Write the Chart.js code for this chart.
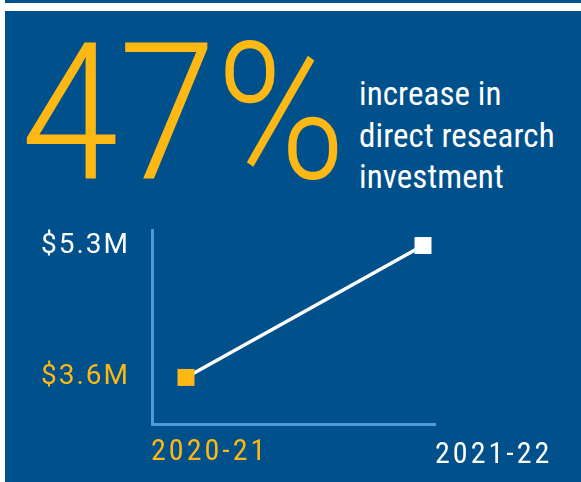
<!DOCTYPE html>
<html>
<head>
<meta charset="utf-8">
<script src="https://cdn.jsdelivr.net/npm/chart.js@4"></script>
<style>
  html, body { margin: 0; padding: 0; background: #ffffff; }
  body { width: 581px; height: 482px; position: relative; overflow: hidden; }
  .strip { position: absolute; left: 5px; top: 0; width: 576px; height: 3px; background: #00508C; }
  .panel { position: absolute; left: 5px; top: 11px; width: 576px; height: 471px; background: #00508C; }
  .big {
    position: absolute; left: 21px; top: 13px;
    font-family: Roboto, sans-serif; font-weight: 300;
    font-size: 191px; line-height: 200px; color: #FDB813;
    transform-origin: 0 0; transform: scaleX(0.92); white-space: nowrap;
  }
  .sub {
    position: absolute; left: 359px; top: 73px;
    font-family: Roboto, sans-serif; font-stretch: condensed; font-weight: 400;
    font-size: 33px; line-height: 41.5px; color: #ffffff; letter-spacing: 0.1px;
    white-space: nowrap;
  }
  canvas { position: absolute; left: 0; top: 0; }
</style>
</head>
<body>
<div class="strip"></div>
<div class="panel"></div>
<div class="big" id="big"></div>
<div class="sub" id="sub"></div>
<canvas id="c" width="581" height="482"></canvas>
<script>
// Headline
const headline = '47%';
const subLines = ['increase in', 'direct research', 'investment'];

// Series
const years = ['2020-21', '2021-22'];
const investment = [3.6, 5.3];            // $ millions
const yTicks = [3.6, 5.3];
const labelColors = ['#FDB813', '#FFFFFF'];

document.getElementById('big').textContent = headline;
document.getElementById('sub').innerHTML = subLines.join('<br>');

const AXIS = '#4A9CD8';

const spacing = {
  id: 'spacing',
  beforeDraw(chart) { chart.ctx.letterSpacing = '2px'; }
};

// category labels under the x axis
const yearLabels = {
  id: 'yearLabels',
  afterDraw(chart) {
    const { ctx, scales: { x }, chartArea } = chart;
    const shift = [-35, 12];
    ctx.save();
    ctx.letterSpacing = '3px';
    ctx.font = 'condensed 400 30px Roboto';
    ctx.textAlign = 'left';
    ctx.textBaseline = 'alphabetic';
    years.forEach((yr, i) => {
      ctx.fillStyle = labelColors[i];
      ctx.fillText(yr, x.getPixelForValue(i) + shift[i], chartArea.bottom + 36 + i * 3);
    });
    ctx.restore();
  }
};

new Chart(document.getElementById('c'), {
  type: 'line',
  data: {
    datasets: [{
      data: investment.map((v, i) => ({ x: i, y: v })),
      borderColor: '#FFFFFF',
      borderWidth: 3.5,
      pointStyle: 'rect',
      pointRadius: 12,
      pointHoverRadius: 12,
      pointBorderWidth: 0,
      pointBackgroundColor: labelColors,
      tension: 0
    }]
  },
  options: {
    responsive: false,
    animation: false,
    events: [],
    layout: { padding: { left: 0, top: 230, right: 146, bottom: 58 } },
    plugins: { legend: { display: false }, tooltip: { enabled: false } },
    scales: {
      x: {
        type: 'linear', min: -0.1435, max: 1.0506,
        grid: { display: false, drawTicks: false },
        border: { display: true, color: AXIS, width: 3 },
        ticks: { display: false },
        afterFit(s) { s.height = 0; }
      },
      y: {
        min: 3.0, max: 5.5,
        grid: { display: false, drawTicks: false },
        border: { display: true, color: AXIS, width: 3 },
        afterBuildTicks(s) { s.ticks = yTicks.map(v => ({ value: v })); },
        afterFit(s) { s.width = 152; },
        ticks: {
          padding: 22,
          color: ctx => labelColors[yTicks.indexOf(ctx.tick.value)],
          font: { family: 'Roboto', style: 'normal condensed', weight: 400, size: 28 },
          callback: v => '$' + v.toFixed(1) + 'M'
        }
      }
    }
  },
  plugins: [spacing, yearLabels]
});
</script>
</body>
</html>
